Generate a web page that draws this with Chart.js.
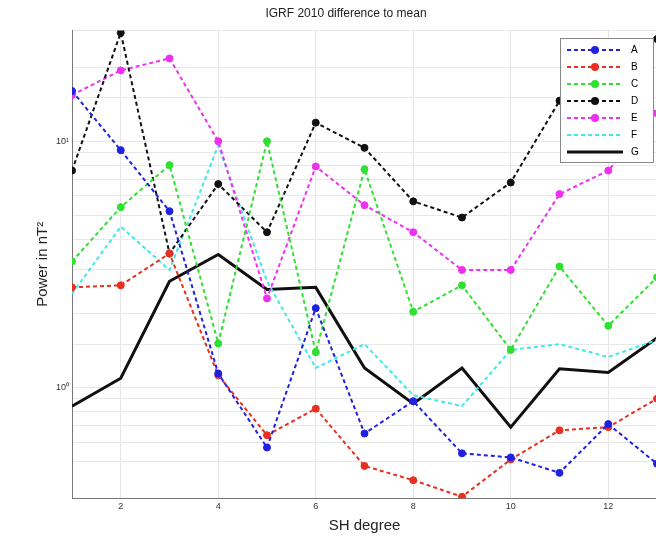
<!DOCTYPE html>
<html>
<head>
<meta charset="utf-8">
<script src="https://cdn.jsdelivr.net/npm/chart.js@4.4.0/dist/chart.umd.min.js"></script>
<style>
  body { margin: 0; background: #fff; overflow: hidden; }
  #wrap { position: relative; width: 656px; height: 543px; }
  #legend { position: absolute; left: 560px; top: 38px; width: 92px; background: #fff; border: 1px solid #888;
    font: 10px Arial, "Liberation Sans", sans-serif; padding: 2px 0; }
  .item { display: flex; align-items: center; height: 17px; }
  .item canvas { margin: 0 6px 0 4px; }
</style>
</head>
<body>
<div id="wrap">
  <canvas id="chart" width="662" height="543"></canvas>
  <div id="legend"></div>
</div>
<script>
const degrees = [1, 2, 3, 4, 5, 6, 7, 8, 9, 10, 11, 12, 13];
const seriesA = [16.0, 9.2, 5.2, 1.14, 0.57, 2.1, 0.65, 0.88, 0.54, 0.52, 0.45, 0.71, 0.49];
const seriesB = [2.55, 2.6, 3.5, 1.12, 0.64, 0.82, 0.48, 0.42, 0.36, 0.51, 0.67, 0.69, 0.9];
const seriesC = [3.25, 5.4, 8.0, 1.51, 10.0, 1.39, 7.7, 2.03, 2.6, 1.42, 3.1, 1.78, 2.8];
const seriesD = [7.6, 27.6, 3.5, 6.7, 4.27, 11.9, 9.4, 5.7, 4.9, 6.8, 14.6, 20.3, 26];
const seriesE = [15.4, 19.4, 21.7, 10.0, 2.3, 7.9, 5.5, 4.27, 3.0, 3.0, 6.1, 7.6, 13];
const seriesF = [2.4, 4.5, 3.0, 9.6, 2.7, 1.2, 1.5, 0.93, 0.84, 1.42, 1.5, 1.33, 1.56];
const seriesG = [0.84, 1.09, 2.7, 3.47, 2.5, 2.55, 1.2, 0.86, 1.2, 0.69, 1.19, 1.15, 1.59];
const xTicks = [2, 4, 6, 8, 10, 12];
const yLabels = { 1: '10\u2070', 10: '10\u00b9' };

const FONT = 'Arial, "Liberation Sans", sans-serif';

function makeSet(label, values, color, marker, dashed, width) {
  return {
    label: label,
    data: degrees.map((d, i) => ({ x: d, y: values[i] })),
    borderColor: color,
    backgroundColor: color,
    borderWidth: width,
    borderDash: dashed ? [4, 3] : [],
    pointRadius: marker ? 3.5 : 0,
    pointBorderWidth: 1,
    tension: 0
  };
}

const datasets = [
  makeSet('A', seriesA, '#2020e0', true, true, 2),
  makeSet('B', seriesB, '#e83020', true, true, 2),
  makeSet('C', seriesC, '#30e030', true, true, 2),
  makeSet('D', seriesD, '#101010', true, true, 2),
  makeSet('E', seriesE, '#f030f0', true, true, 2),
  makeSet('F', seriesF, '#40e8e8', false, true, 2),
  makeSet('G', seriesG, '#101010', false, false, 3)
];

new Chart(document.getElementById('chart'), {
  type: 'line',
  data: { datasets: datasets },
  options: {
    responsive: false,
    animation: false,
    layout: { padding: { top: 4, right: 0, bottom: 6, left: 30 } },
    plugins: {
      legend: { display: false },
      tooltip: { enabled: false },
      title: { display: true, text: 'IGRF 2010 difference to mean', color: '#222',
        font: { family: FONT, size: 12, weight: 'normal' }, padding: { top: 2, bottom: 10 } }
    },
    scales: {
      x: {
        type: 'linear', min: 1, max: 13,
        afterBuildTicks: axis => { axis.ticks = xTicks.map(v => ({ value: v })); },
        ticks: { color: '#333', font: { family: FONT, size: 9 } },
        grid: { color: '#e4e4e4', drawTicks: false },
        border: { color: '#777' },
        title: { display: true, text: 'SH degree', color: '#222', font: { family: FONT, size: 15 }, padding: 2 }
      },
      y: {
        type: 'logarithmic', min: 0.355, max: 28.2,
        afterFit: axis => { axis.width = 42; },
        ticks: { color: '#333', font: { family: FONT, size: 9 }, autoSkip: false,
          callback: v => yLabels[v] || '' },
        grid: { color: '#e8e8e8', drawTicks: false },
        border: { color: '#777' },
        title: { display: true, text: 'Power in nT\u00b2', color: '#222', font: { family: FONT, size: 15 }, padding: 4 }
      }
    }
  }
});

const legend = document.getElementById('legend');
datasets.forEach(ds => {
  const row = document.createElement('div');
  row.className = 'item';
  const c = document.createElement('canvas');
  c.width = 60; c.height = 12;
  const g = c.getContext('2d');
  g.strokeStyle = ds.borderColor; g.lineWidth = ds.borderWidth;
  g.setLineDash(ds.borderDash);
  g.beginPath(); g.moveTo(2, 6); g.lineTo(58, 6); g.stroke();
  if (ds.pointRadius) { g.fillStyle = ds.borderColor; g.beginPath(); g.arc(30, 6, 4, 0, 7); g.fill(); }
  row.appendChild(c);
  row.appendChild(document.createTextNode(ds.label));
  legend.appendChild(row);
});
</script>
</body>
</html>
